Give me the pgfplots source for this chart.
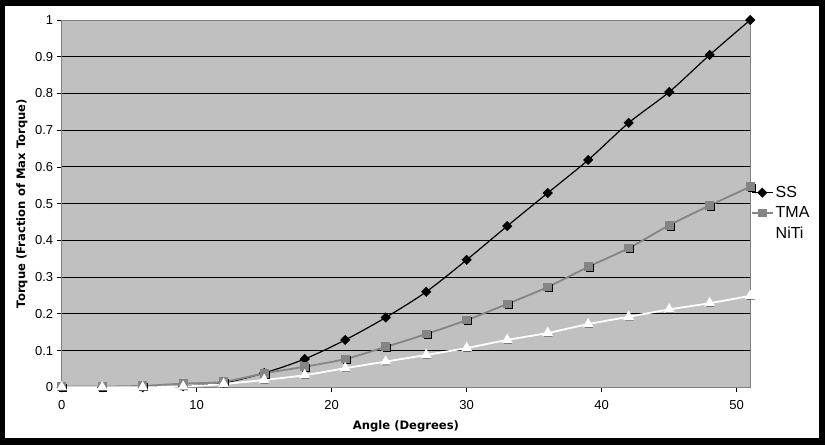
\documentclass[border=0pt]{standalone}
\usepackage{fontspec}
\setmainfont{Liberation Sans}
\newfontfamily\labfont{DejaVu Sans}
\usepackage{pgfplots}
\usepackage{pgfplotstable}
\pgfplotsset{compat=1.18}
\definecolor{plotbg}{HTML}{C0C0C0}
\definecolor{plotborder}{HTML}{808080}
\definecolor{tmagray}{HTML}{858585}
\pgfplotstableread{
x ss tma niti
0 0 0.002 0
3 0 0.002 0
6 0 0.004 0
9 0.003 0.010 0.002
12 0.012 0.015 0.009
15 0.039 0.038 0.020
18 0.077 0.056 0.033
21 0.129 0.077 0.052
24 0.190 0.110 0.070
27 0.260 0.145 0.088
30 0.347 0.183 0.107
33 0.439 0.227 0.129
36 0.529 0.273 0.148
39 0.619 0.328 0.172
42 0.720 0.379 0.192
45 0.804 0.441 0.212
48 0.905 0.495 0.229
51 1.000 0.546 0.249
}\datatable
\begin{document}
\begin{tikzpicture}
\useasboundingbox (-61.7pt,-57.7pt) rectangle (763.3pt,387.3pt);
\fill[black] (-61.7pt,-57.7pt) rectangle (763.3pt,387.3pt);
\fill[white] (-56.7pt,-50.7pt) rectangle (757.3pt,381.3pt);
\begin{axis}[
  at={(0pt,0pt)}, anchor=south west,
  scale only axis, width=688.5pt, height=367.3pt,
  xmin=0, xmax=51, ymin=0, ymax=1,
  xtick={0,10,20,30,40,50},
  ytick={0,0.1,0.2,0.3,0.4,0.5,0.6,0.7,0.8,0.9,1},
  yticklabel style={/pgf/number format/.cd, fixed, precision=1},
  xticklabel style={yshift=-4.5pt},
  /pgf/number format/assume math mode=true,
  ticklabel style={font=\fontsize{13}{15}\selectfont},
  axis background/.style={fill=plotbg},
  axis line style={plotborder, line width=1pt},
  ymajorgrids, grid style={black, line width=0.9pt},
  tick align=outside, tick pos=left, major tick length=5pt,
  tick style={black, line width=0.8pt},
  clip=false,
  xlabel={Angle (Degrees)},
  ylabel={Torque (Fraction of Max Torque)},
  xlabel style={at={(axis description cs:0.5,-0.1143)}, anchor=base, font=\labfont\bfseries\fontsize{11.6}{14}\selectfont},
  ylabel style={at={(axis description cs:-0.053,0.5)}, anchor=base, rotate=0, font=\labfont\bfseries\fontsize{11.6}{14}\selectfont},
  legend style={draw=none, fill=none, at={(1,0.474)}, anchor=west,
    inner xsep=0.5pt, inner ysep=0pt, font=\fontsize{16}{19}\selectfont,
    row sep=3.7pt, nodes={inner sep=2pt}},
  legend cell align=left,
  legend image code/.code={\draw[mark repeat=2, mark phase=2] plot coordinates {(0pt,0pt) (10.5pt,0pt) (21pt,0pt)};},
]
\addplot[black, line width=1.2pt, smooth, mark=square*, mark size=3pt, mark options={rotate=45, solid, fill=black}] table[x=x, y=ss] {\datatable};
\addlegendentry{SS}
\addplot[forget plot, only marks, mark=square*, mark size=3.5pt, mark options={black, fill=black, xshift=1pt, yshift=-1pt}] table[x=x, y=tma] {\datatable};
\addplot[tmagray, line width=1.8pt, smooth, mark=square*, mark size=3.5pt, mark options={solid, fill=tmagray, draw=tmagray}] table[x=x, y=tma] {\datatable};
\addlegendentry{TMA}
\addplot[forget plot, only marks, mark=triangle*, mark size=4.5pt, mark options={black, fill=black, xshift=0.6pt, yshift=-1pt}] table[x=x, y=niti] {\datatable};
\addplot[white, line width=1.8pt, smooth, mark=triangle*, mark size=4.5pt, mark options={solid, fill=white, draw=white}] table[x=x, y=niti] {\datatable};
\addlegendentry{NiTi}
\end{axis}
\end{tikzpicture}
\end{document}
